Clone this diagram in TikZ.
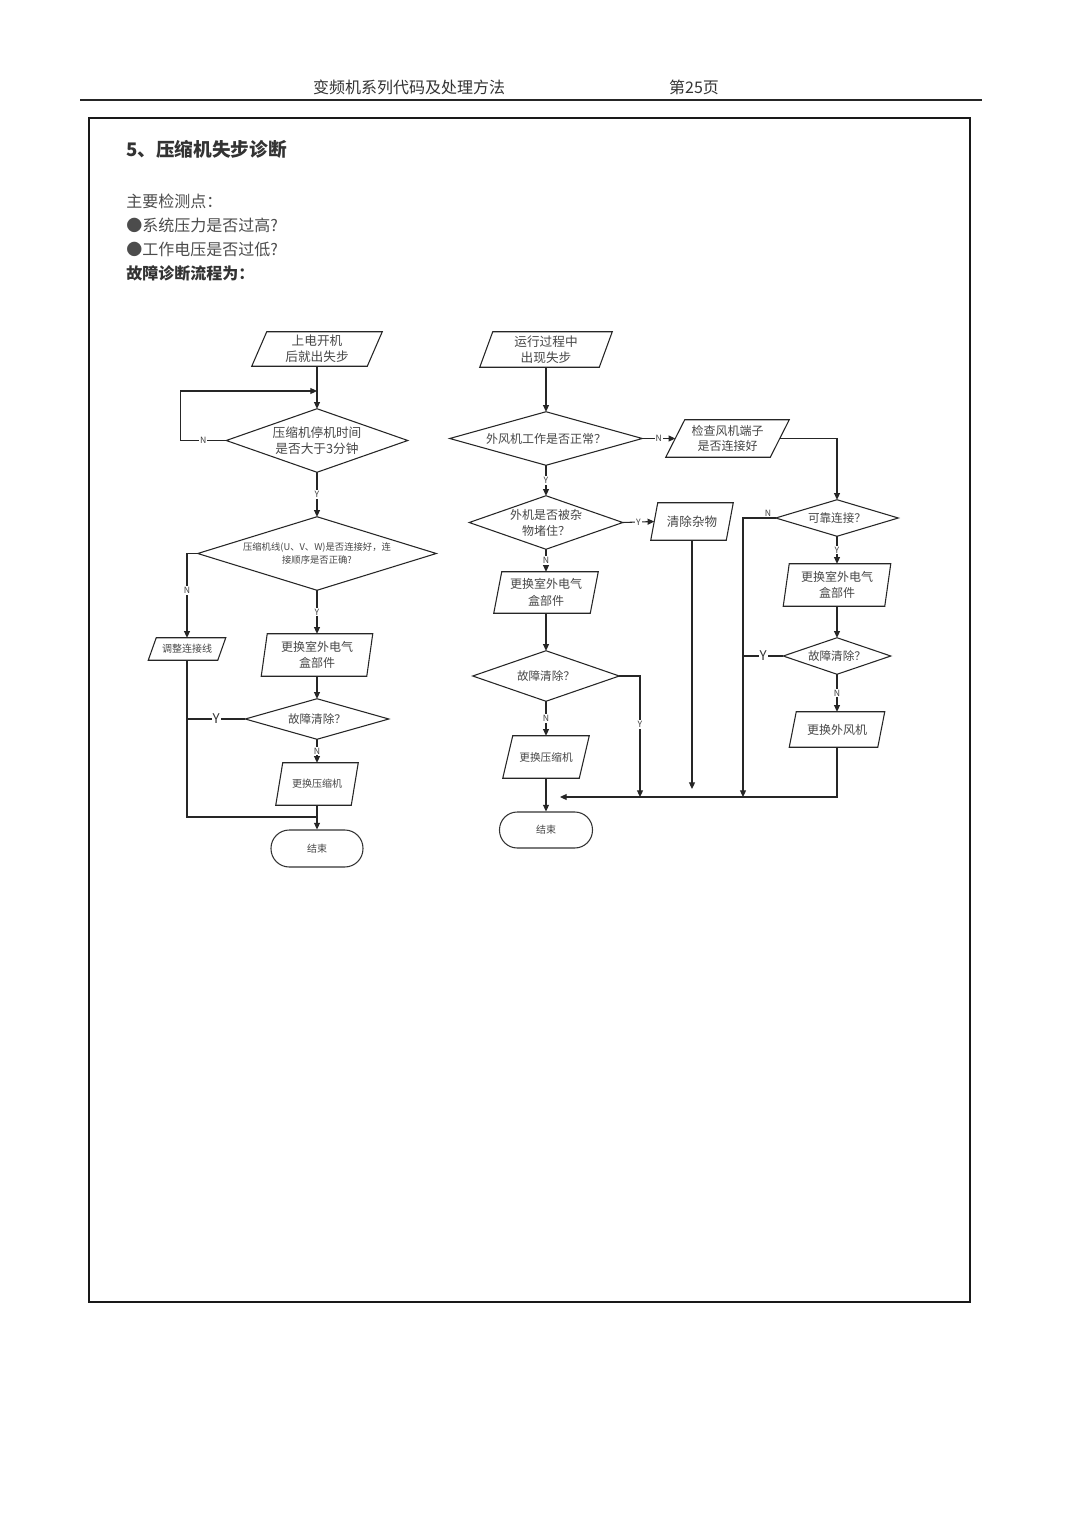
\documentclass[tikz,border=0pt]{standalone}
\usepackage{fontspec}
\newfontfamily\cjk{Noto Sans CJK SC}
\usetikzlibrary{arrows.meta,calc}
\newcommand\fs[2]{\fontsize{#1}{#2}\selectfont}
\newcommand\mypara[8]{%
  \node[txt, font=\cjk#7, minimum width=#4*0.75pt, minimum height=#5*0.75pt] (#1) at (#2,#3) {#8};
  \draw[ln] ($(#1.north west)+(#6,0)$) -- (#1.north east) -- ($(#1.south east)+(-#6,0)$) -- (#1.south west) -- cycle;}
\newcommand\mydia[7]{%
  \node[txt, font=\cjk#6, minimum width=#4*0.75pt, minimum height=#5*0.75pt] (#1) at (#2,#3) {#7};
  \draw[ln] (#1.north) -- (#1.east) -- (#1.south) -- (#1.west) -- cycle;}
\newcommand\myterm[7]{%
  \node[txt, font=\cjk#6, draw=black!80, line width=0.8pt, rounded corners=#5*0.37pt, minimum width=#4*0.75pt, minimum height=#5*0.75pt] (#1) at (#2,#3) {#7};}
\begin{document}
\begin{tikzpicture}[x=0.75pt,y=-0.75pt, font=\cjk,
  ln/.style={line width=0.8pt, draw=black!85},
  arr/.style={ln, -{Triangle[length=5pt,width=4.5pt]}},
  txt/.style={inner sep=0pt, align=center, text=black!72},
  lbl/.style={fill=white, inner sep=0.8pt, font=\cjk\fs{6.5}{7}, text=black!75},
  lblb/.style={fill=white, inner sep=0.8pt, font=\cjk\fs{10}{11}, text=black!80},
  body/.style={anchor=west, inner sep=0pt, font=\cjk\fs{12}{14}, text=black!70}]
\useasboundingbox (0,0) rectangle (1080,1527);
\fill[white] (0,0) rectangle (1080,1527);
% header
\node[inner sep=0pt, font=\cjk\fs{12}{14}, text=black!80] (hd) at (409,87) {变频机系列代码及处理方法};
\node[inner sep=0pt, font=\cjk\fs{12}{14}, text=black!80] (pg) at (694,87) {第25页};
\draw[line width=1.8pt, black!85] (80,100) -- (982,100);
\draw[line width=1.5pt, black!90] (89,118) rectangle (970,1302);
% texts
\node[body, font=\cjk\bfseries\fs{14}{16}, text=black!80] (tt) at (126,149) {5、压缩机失步诊断};
\node[body] (b1) at (126,201) {主要检测点：};
\node[body] (b2) at (126,225) {●系统压力是否过高?};
\node[body] (b3) at (126,249) {●工作电压是否过低?};
\node[body, font=\cjk\bfseries\fs{12}{14}, text=black!80] (b4) at (126,273) {故障诊断流程为：};
% left chart
\mypara{s1}{317}{349}{130}{34}{15}{\fs{9.5}{12}}{上电开机\\后就出失步}
\mydia{d1}{317}{440.5}{181}{63}{\fs{9.5}{12}}{压缩机停机时间\\是否大于3分钟}
\mydia{d2}{317}{553.5}{238}{73}{\fs{7}{10}}{压缩机线(U、V、W)是否连接好，连\\接顺序是否正确?}
\mypara{adj}{187}{649}{77}{22}{8}{\fs{7.5}{9}}{调整连接线}
\mypara{l2}{317}{655}{111}{42}{6}{\fs{9}{12.5}}{更换室外电气\\盒部件}
\mydia{d3}{317}{719}{143}{40}{\fs{8.7}{10}}{故障清除？}
\mypara{l3}{317}{784}{82}{42}{7}{\fs{7.5}{9}}{更换压缩机}
\myterm{e1}{317}{848.5}{92}{37}{\fs{7.5}{9}}{结束}
\coordinate (lp) at (317,391);
\coordinate (jl) at (317,817);
\draw[arr] (s1.south) -- (d1.north);
\draw[arr] (d1.west) -- node[lbl]{N} ++(-46,0) |- (lp);
\draw[arr] (d1.south) -- node[lbl]{Y} (d2.north);
\draw[arr] (d2.west) -| node[lbl,pos=0.72]{N} (adj.north);
\draw[arr] (d2.south) -- node[lbl]{Y} (l2.north);
\draw[arr] (l2.south) -- (d3.north);
\draw[ln] (d3.west) -- node[lblb]{Y} (adj.south |- d3.west);
\draw[arr] (d3.south) -- node[lbl]{N} (l3.north);
\draw[arr] (l3.south) -- (e1.north);
\draw[ln] (adj.south) |- (jl);
% middle chart
\mypara{s2}{546}{349.5}{132}{35}{13}{\fs{9.5}{12}}{运行过程中\\出现失步}
\mydia{m1}{546}{438.5}{192}{53}{\fs{9}{10}}{外风机工作是否正常？}
\mypara{chk}{727.5}{438.5}{123}{37}{19}{\fs{9}{11.5}}{检查风机端子\\是否连接好}
\mydia{m2}{546}{522.5}{153}{53}{\fs{9}{12}}{外机是否被杂\\物堵住？}
\mypara{clr}{692}{521.5}{82}{37}{7}{\fs{9.4}{10}}{清除杂物}
\mypara{m3}{546}{592.5}{104}{41}{8}{\fs{9}{12.5}}{更换室外电气\\盒部件}
\mydia{m4}{546}{676}{146}{50}{\fs{8.7}{10}}{故障清除？}
\mypara{m5}{546}{757}{86}{42}{10}{\fs{8}{9}}{更换压缩机}
\myterm{e2}{546}{830}{93}{36}{\fs{7.5}{9}}{结束}
% right chart
\mydia{r1}{837}{518}{122}{36}{\fs{8.7}{10}}{可靠连接？}
\mypara{r2}{837}{585}{107}{42}{6}{\fs{9}{12.5}}{更换室外电气\\盒部件}
\mydia{r3}{837}{656}{107}{36}{\fs{8.7}{10}}{故障清除？}
\mypara{r4}{837}{729.5}{95}{35}{7}{\fs{9}{10}}{更换外风机}
\coordinate (clrend) at (692,789);
\coordinate (j1) at (640,797);
\coordinate (j2) at (743,797);
\coordinate (cend) at (560,797);
\draw[arr] (s2.south) -- (m1.north);
\draw[arr] (m1.east) -- node[lbl]{N} ($(chk.west)+(9.5,0)$);
\draw[arr] ($(chk.east)+(-9.5,0)$) -| (r1.north);
\draw[arr] (m1.south) -- node[lbl]{Y} (m2.north);
\draw[arr] (m2.east) -- node[lbl]{Y} ($(clr.west)+(3.5,0)$);
\draw[arr] (clr.south) -- (clrend);
\draw[arr] (m2.south) -- node[lbl]{N} (m3.north);
\draw[arr] (m3.south) -- (m4.north);
\draw[arr] (m4.east) -| node[lbl,pos=0.7]{Y} (j1);
\draw[arr] (m4.south) -- node[lbl]{N} (m5.north);
\draw[arr] (m5.south) -- (e2.north);
\draw[arr] (r1.west) -| node[lbl, fill=none, above, pos=0.12]{N} (j2);
\draw[arr] (r1.south) -- node[lbl]{Y} (r2.north);
\draw[arr] (r2.south) -- (r3.north);
\draw[ln] (r3.west) -- node[lblb]{Y} (j2 |- r3.west);
\draw[arr] (r3.south) -- node[lbl]{N} (r4.north);
\draw[arr] (r4.south) |- (cend);
\end{tikzpicture}
\end{document}
